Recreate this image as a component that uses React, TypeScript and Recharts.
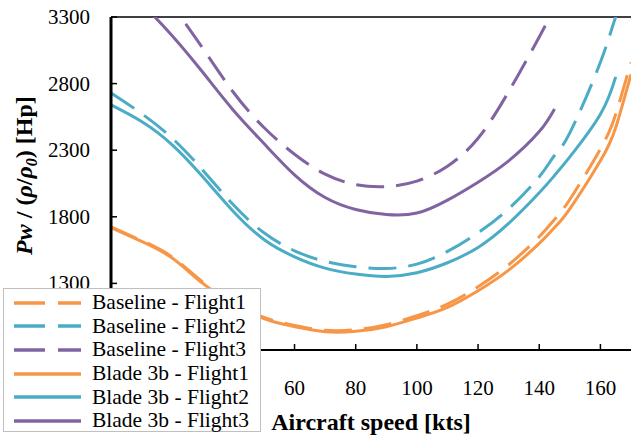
import { LineChart, Line, XAxis, YAxis, Legend, ReferenceLine } from 'recharts'

const SERIF = "'Liberation Serif', 'Times New Roman', Times, serif"

const speeds = [0, 10, 20, 30, 40, 50, 60, 70, 80, 90, 100, 110, 120, 130, 140, 145, 150, 160, 165, 170]

const baselineF1 = [1724, 1622, 1498, 1310, 1160, 1045, 985, 948, 952, 990, 1058, 1145, 1275, 1440, 1650, 1780, 1930, 2310, 2570, 2960]
const baselineF2 = [2730, 2575, 2390, 2150, 1890, 1680, 1545, 1465, 1425, 1412, 1445, 1540, 1680, 1860, 2100, 2260, 2430, 2960, 3300, 3560]
const baselineF3 = [3950, 3700, 3390, 3065, 2735, 2470, 2270, 2120, 2042, 2027, 2068, 2180, 2390, 2740, 3150, 3370, null, null, null, null]
const blade3bF1 = [1718, 1615, 1490, 1300, 1150, 1035, 975, 937, 940, 975, 1040, 1120, 1245, 1400, 1600, 1720, 1860, 2220, 2470, 2870]
const blade3bF2 = [2640, 2515, 2340, 2100, 1840, 1630, 1500, 1415, 1370, 1352, 1380, 1455, 1570, 1750, 1980, 2110, 2250, 2570, 2850, null]
const blade3bF3 = [3620, 3400, 3160, 2885, 2600, 2350, 2115, 1945, 1855, 1817, 1828, 1925, 2060, 2220, 2440, 2610, null, null, null, null]

// ticks 0-40 and 800 sit under the legend box in the original
const xTicks = [60, 80, 100, 120, 140, 160]
const yTicks = [1300, 1800, 2300, 2800, 3300]

const ORANGE = '#F79646'
const AQUA = '#4BACC6'
const PURPLE = '#8064A2'
const DASH = '28 12'

const series = [
  { key: 'bl1', name: 'Baseline - Flight1', values: baselineF1, color: ORANGE, dashed: true },
  { key: 'bl2', name: 'Baseline - Flight2', values: baselineF2, color: AQUA, dashed: true },
  { key: 'bl3', name: 'Baseline - Flight3', values: baselineF3, color: PURPLE, dashed: true },
  { key: 'b31', name: 'Blade 3b - Flight1', values: blade3bF1, color: ORANGE, dashed: false },
  { key: 'b32', name: 'Blade 3b - Flight2', values: blade3bF2, color: AQUA, dashed: false },
  { key: 'b33', name: 'Blade 3b - Flight3', values: blade3bF3, color: PURPLE, dashed: false },
]

const data = speeds.map((v, i) => {
  const row: Record<string, number | null> = { speed: v }
  series.forEach((s) => {
    row[s.key] = s.values[i]
  })
  return row
})

function XTick(props: any) {
  const { x, y, payload } = props
  return (
    <g>
      <line x1={x} x2={x} y1={y} y2={y - 6} stroke="#000" strokeWidth={1.5} />
      <text x={x} y={y + 45} textAnchor="middle" fontFamily={SERIF} fontSize={21} fill="#000">
        {payload.value}
      </text>
    </g>
  )
}

function YTick(props: any) {
  const { x, y, payload } = props
  return (
    <g>
      <line x1={x + 21} x2={x + 27} y1={y} y2={y} stroke="#000" strokeWidth={1.5} />
      <text x={x} y={y + 7} textAnchor="end" fontFamily={SERIF} fontSize={21} fill="#000">
        {payload.value}
      </text>
    </g>
  )
}

function YTitle(props: any) {
  const vb = props.viewBox || { x: 0, y: 17, width: 111, height: 333 }
  const cx = 32
  const cy = vb.y + vb.height / 2 - 8
  return (
    <text
      x={cx}
      y={cy}
      textAnchor="middle"
      transform={`rotate(-90, ${cx}, ${cy})`}
      fontFamily={SERIF}
      fontSize={24}
      fontWeight="bold"
      fill="#000"
    >
      <tspan fontStyle="italic">Pw</tspan>
      <tspan> / (</tspan>
      <tspan fontStyle="italic">ρ</tspan>
      <tspan>/</tspan>
      <tspan fontStyle="italic">ρ</tspan>
      <tspan fontStyle="italic" fontSize={16} dy={5}>0</tspan>
      <tspan dy={-5}>) [Hp]</tspan>
    </text>
  )
}

function XTitle(props: any) {
  const vb = props.viewBox || { x: 111, y: 350, width: 520, height: 85 }
  return (
    <text
      x={vb.x + vb.width / 2}
      y={vb.y + 80}
      textAnchor="middle"
      fontFamily={SERIF}
      fontSize={24}
      fontWeight="bold"
      fill="#000"
    >
      Aircraft speed [kts]
    </text>
  )
}

function LegendBox() {
  return (
    <div
      style={{
        width: 258,
        height: 144,
        boxSizing: 'border-box',
        border: '1.5px solid #bfbfbf',
        background: '#fff',
        paddingTop: 2,
      }}
    >
      {series.map((s) => (
        <div key={s.key} style={{ height: 23.6, display: 'flex', alignItems: 'center' }}>
          <svg width={67} height={10} style={{ marginLeft: 10, marginRight: 11, flex: 'none' }}>
            <line
              x1={0}
              x2={67}
              y1={5}
              y2={5}
              stroke={s.color}
              strokeWidth={3.5}
              strokeDasharray={s.dashed ? '31 13' : undefined}
            />
          </svg>
          <span
            style={{
              lineHeight: '23px',
              whiteSpace: 'nowrap',
              fontFamily: SERIF,
              fontSize: 21.5,
              color: '#000',
            }}
          >
            {s.name}
          </span>
        </div>
      ))}
    </div>
  )
}

export default function App() {
  return (
    <div style={{ position: 'absolute', left: 0, top: 0, width: 631, height: 435, background: '#fff' }}>
      <LineChart width={631} height={435} data={data} margin={{ top: 17, right: 0, bottom: 0, left: 0 }}>
        <XAxis
          dataKey="speed"
          type="number"
          domain={[0, 170]}
          ticks={xTicks}
          interval={0}
          height={85}
          tickSize={0}
          tickMargin={0}
          tick={<XTick />}
          axisLine={{ stroke: '#000', strokeWidth: 2 }}
          label={<XTitle />}
        />
        <YAxis
          type="number"
          domain={[800, 3300]}
          ticks={yTicks}
          interval={0}
          allowDataOverflow
          width={111}
          tickSize={0}
          tickMargin={21}
          tick={<YTick />}
          axisLine={{ stroke: '#000', strokeWidth: 3 }}
          label={<YTitle />}
        />
        <ReferenceLine y={3300} stroke="#000" strokeWidth={1.5} />
        {series.map((s) => (
          <Line
            key={s.key}
            dataKey={s.key}
            name={s.name}
            type="natural"
            stroke={s.color}
            strokeWidth={3}
            strokeDasharray={s.dashed ? DASH : undefined}
            dot={false}
            activeDot={false}
            isAnimationActive={false}
          />
        ))}
        <Legend
          verticalAlign="middle"
          align="center"
          content={<LegendBox />}
          wrapperStyle={{ left: 3, top: 288, bottom: 'auto', width: 258, height: 144 }}
        />
      </LineChart>
    </div>
  )
}
